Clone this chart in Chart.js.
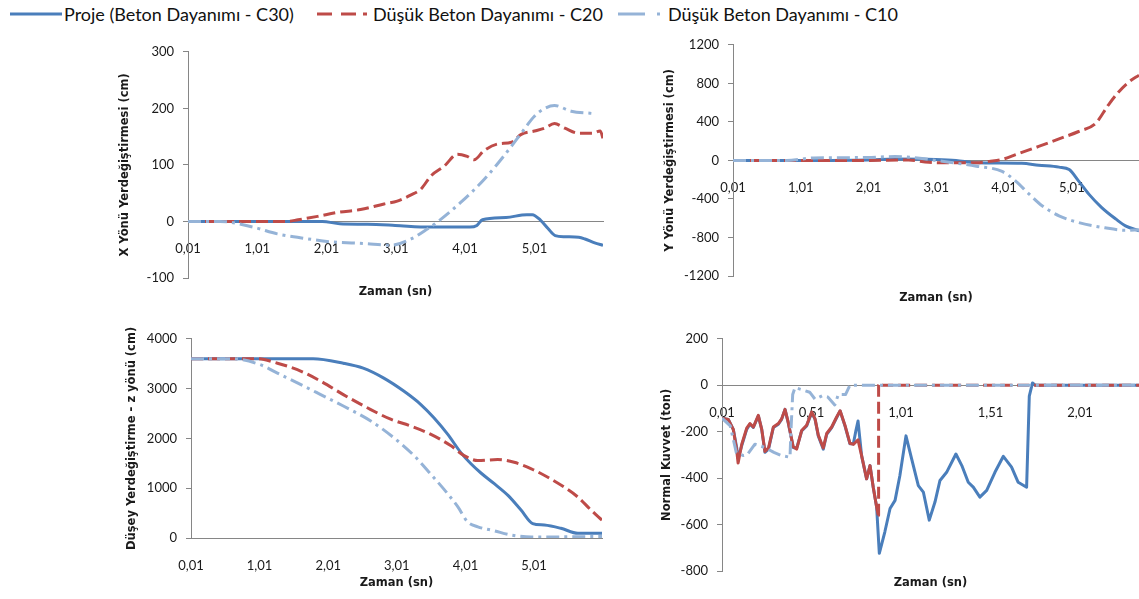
<!DOCTYPE html>
<html>
<head>
<meta charset="utf-8">
<script src="https://cdn.jsdelivr.net/npm/chart.js@4.4.1/dist/chart.umd.min.js"></script>
<style>
  body { margin: 0; background: #fff; width: 1139px; height: 599px; position: relative; overflow: hidden; font-family: Lato, "Open Sans", sans-serif; }
  canvas { position: absolute; }
  .legLine { position: absolute; top: 4px; }
  .legText { position: absolute; top: 3px; font-size: 18px; line-height: 22px; color: #111; white-space: nowrap; }
</style>
</head>
<body>
<svg class="legLine" style="left:10px" width="52" height="20"><line x1="0" y1="10" x2="52" y2="10" stroke="#4A7EBB" stroke-width="3"/></svg>
<span class="legText" style="left:64px">Proje (Beton Dayanımı - C30)</span>
<svg class="legLine" style="left:317px" width="52" height="20"><line x1="0" y1="10" x2="52" y2="10" stroke="#BE4B48" stroke-width="3" stroke-dasharray="15 9 15 7 4 100"/></svg>
<span class="legText" style="left:373px">Düşük Beton Dayanımı - C20</span>
<svg class="legLine" style="left:618px" width="52" height="20"><line x1="0" y1="10" x2="52" y2="10" stroke="#95B3D7" stroke-width="3" stroke-dasharray="27 12 3 100"/></svg>
<span class="legText" style="left:668px">Düşük Beton Dayanımı - C10</span>

<canvas id="chartX" width="505" height="270" style="left:110px;top:35px"></canvas>
<canvas id="chartY" width="499" height="285" style="left:640px;top:28px"></canvas>
<canvas id="chartZ" width="505" height="277" style="left:110px;top:322px"></canvas>
<canvas id="chartN" width="499" height="277" style="left:640px;top:322px"></canvas>

<script>
// tick positions on the time axes (sn)
const longTicks = [0.01, 1.01, 2.01, 3.01, 4.01, 5.01];
const shortTicks = [0.01, 0.51, 1.01, 1.51, 2.01];

// X yönü yerdeğiştirmesi (cm)
const xTimeC30 = [0.01, 1.95, 2.2, 2.6, 3.0, 3.5, 4.08, 4.18, 4.26, 4.6, 4.9, 4.98, 5.1, 5.21, 5.31, 5.45, 5.65, 5.74, 5.88, 6.0];
const xC30 = [0, 0, -4, -5, -7, -10, -10, -7, 3, 7, 12, 12, 2, -13, -25, -27, -28, -31, -38, -42];
const xTimeC20 = [0.01, 1.44, 1.6, 1.88, 2.17, 2.5, 2.84, 3.03, 3.23, 3.37, 3.52, 3.71, 3.9, 4.04, 4.14, 4.28, 4.48, 4.68, 4.82, 5.01, 5.16, 5.3, 5.45, 5.65, 5.84, 5.96, 6.0];
const xC20 = [0, 0, 3, 9, 16, 21, 31, 36, 47, 57, 81, 98, 119, 115, 109, 125, 137, 140, 154, 160, 165, 173, 165, 156, 156, 160, 147];
const xTimeC10 = [0.01, 0.47, 0.95, 1.3, 1.59, 2.07, 2.55, 2.94, 3.23, 3.47, 3.62, 3.95, 4.29, 4.57, 4.82, 5.01, 5.16, 5.3, 5.54, 5.84];
const xC10 = [0, 0, -10, -22, -28, -36, -39, -42, -31, -13, 0, 34, 75, 116, 156, 186, 200, 205, 195, 191];

// Y yönü yerdeğiştirmesi (cm)
const yTimeC30 = [0.01, 1.0, 2.0, 2.4, 3.0, 3.3, 3.6, 4.27, 4.52, 4.82, 4.97, 5.11, 5.26, 5.45, 5.66, 5.8, 6.0];
const yC30 = [0, 0, 5, 15, 10, 0, -25, -30, -50, -70, -95, -215, -350, -490, -610, -680, -730];
const yTimeC20 = [0.01, 1.0, 2.0, 2.6, 2.9, 3.3, 3.6, 3.79, 3.98, 4.18, 4.52, 4.82, 5.11, 5.36, 5.55, 5.7, 5.85, 6.0];
const yC20 = [0, 0, 0, 5, -20, -25, -25, -10, 10, 60, 145, 223, 300, 385, 577, 711, 814, 885];
const yTimeC10 = [0.01, 0.8, 1.2, 2.0, 2.4, 2.8, 3.0, 3.6, 3.98, 4.18, 4.38, 4.57, 4.82, 5.11, 5.5, 5.8, 6.0];
const yC10 = [0, 0, 25, 30, 40, 20, 0, -60, -115, -215, -350, -470, -575, -645, -700, -725, -720];

// Düşey yerdeğiştirme - z yönü (cm)
const zTimeC30 = [0.01, 1.79, 2.23, 2.52, 2.82, 3.11, 3.36, 3.55, 3.75, 3.94, 4.09, 4.24, 4.43, 4.63, 4.82, 4.99, 5.16, 5.4, 5.65, 6.0];
const zC30 = [3600, 3600, 3510, 3410, 3210, 2950, 2680, 2415, 2085, 1720, 1490, 1300, 1090, 855, 560, 290, 260, 195, 95, 95];
const zTimeC20 = [0.01, 0.97, 1.27, 1.56, 1.9, 2.23, 2.58, 2.92, 3.21, 3.5, 3.8, 3.99, 4.19, 4.48, 4.72, 4.97, 5.21, 5.45, 5.65, 5.84, 6.0];
const zC20 = [3600, 3600, 3510, 3380, 3150, 2880, 2615, 2385, 2250, 2085, 1850, 1655, 1555, 1575, 1520, 1390, 1220, 1020, 820, 560, 360];
const zTimeC10 = [0.01, 0.6, 1.02, 1.27, 1.56, 1.9, 2.23, 2.63, 2.96, 3.26, 3.5, 3.75, 3.9, 4.04, 4.19, 4.43, 4.68, 4.97, 6.0];
const zC10 = [3600, 3600, 3480, 3310, 3115, 2880, 2650, 2350, 2020, 1655, 1290, 890, 625, 325, 225, 145, 60, 20, 30];

// Normal kuvvet (ton)
const nTimeC30 = [0.01, 0.045, 0.073, 0.092, 0.1, 0.12, 0.148, 0.166, 0.185, 0.213, 0.232, 0.25, 0.27, 0.297, 0.325, 0.343, 0.362, 0.38, 0.408, 0.427, 0.455, 0.483, 0.511, 0.53, 0.548, 0.576, 0.595, 0.623, 0.65, 0.67, 0.697, 0.725, 0.744, 0.757, 0.77, 0.79, 0.818, 0.837, 0.855, 0.874, 0.889, 0.92, 0.949, 0.977, 1.004, 1.038, 1.07, 1.107, 1.135, 1.168, 1.2, 1.228, 1.265, 1.317, 1.35, 1.386, 1.414, 1.451, 1.489, 1.535, 1.582, 1.628, 1.665, 1.712, 1.727, 1.745, 1.76, 2.34];
const nC30 = [-142, -147, -190, -268, -315, -261, -190, -168, -182, -132, -190, -289, -275, -182, -168, -147, -104, -161, -268, -272, -197, -175, -118, -147, -218, -275, -211, -182, -140, -111, -175, -252, -252, -200, -154, -303, -403, -346, -439, -524, -724, -631, -531, -496, -389, -218, -318, -432, -460, -581, -503, -410, -375, -296, -346, -418, -439, -482, -453, -375, -306, -353, -418, -439, -47, 10, 0, 0];
const nTimeC20 = [0.01, 0.045, 0.073, 0.092, 0.1, 0.12, 0.148, 0.166, 0.185, 0.213, 0.232, 0.25, 0.27, 0.297, 0.325, 0.343, 0.362, 0.38, 0.408, 0.427, 0.455, 0.483, 0.511, 0.53, 0.548, 0.576, 0.595, 0.623, 0.65, 0.67, 0.697, 0.725, 0.744, 0.77, 0.79, 0.818, 0.837, 0.855, 0.874, 0.883, 0.885, 0.893, 0.905, 2.34];
const nC20 = [-142, -147, -190, -280, -335, -255, -185, -165, -180, -130, -190, -285, -270, -180, -165, -145, -104, -160, -265, -275, -195, -172, -115, -145, -215, -270, -208, -180, -138, -110, -172, -250, -255, -235, -303, -403, -346, -439, -524, -560, 0, 12, 0, 0];
const nTimeC10 = [0.01, 0.056, 0.09, 0.13, 0.15, 0.194, 0.25, 0.3, 0.343, 0.39, 0.395, 0.405, 0.418, 0.46, 0.5, 0.53, 0.57, 0.6, 0.64, 0.66, 0.7, 0.725, 2.34];
const nC10 = [-142, -175, -290, -303, -300, -254, -268, -289, -303, -310, -200, -40, -10, -20, -30, -60, -45, -50, -85, -40, -40, 0, 0];

const BLUE = '#4A7EBB';
const RED = '#BE4B48';
const LIGHT = '#95B3D7';
const AXIS = '#868686';
const TEXT = '#1a1a1a';
const RED_DASH = [12, 5];
const LIGHT_DASH = [13, 5, 3, 5];
const TITLE_FONT = { family: '"DejaVu Sans", sans-serif', size: 11.5, weight: 'bold' };

function pts(t, v) {
  return t.map((x, i) => ({ x: x, y: v[i] }));
}

function series(t, v, color, dash, order, extra) {
  return Object.assign({
    data: pts(t, v),
    borderColor: color,
    borderWidth: 3,
    borderDash: dash,
    borderCapStyle: 'butt',
    borderJoinStyle: 'round',
    pointRadius: 0,
    fill: false,
    cubicInterpolationMode: 'monotone',
    order: order
  }, extra || {});
}

function makeChart(id, s) {
  return new Chart(document.getElementById(id), {
    type: 'line',
    data: { datasets: s.datasets },
    options: {
      responsive: false,
      animation: false,
      events: [],
      layout: { padding: { top: 15, right: s.right, left: 0, bottom: 0 } },
      plugins: { legend: { display: false }, tooltip: { enabled: false } },
      scales: {
        x: {
          type: 'linear',
          position: { y: 0 },
          min: 0.01,
          max: s.xMax,
          afterBuildTicks: (axis) => { axis.ticks = s.xTicks.map(v => ({ value: v })); },
          afterFit: (axis) => { axis.height = 0; },
          grid: { display: false },
          border: { color: AXIS, width: 1 },
          ticks: {
            color: TEXT,
            font: { size: 13 },
            padding: 12,
            maxRotation: 0,
            autoSkip: false,
            callback: (v) => Number(v).toFixed(2).replace('.', ',')
          }
        },
        xt: {
          type: 'linear',
          position: 'bottom',
          min: 0,
          max: 1,
          grid: { display: false },
          border: { display: false },
          ticks: { display: false },
          title: { display: true, text: 'Zaman (sn)', color: TEXT, font: TITLE_FONT, padding: { top: 0, bottom: s.xTitlePad } },
          afterFit: (axis) => { axis.height = s.xTitleHeight; }
        },
        y: {
          min: s.yMin,
          max: s.yMax,
          ticks: { stepSize: s.yStep, color: TEXT, font: { size: 13 }, padding: 9, callback: (v) => String(v) },
          grid: { drawOnChartArea: false, tickLength: 5, color: AXIS },
          border: { color: AXIS, width: 1 },
          title: { display: true, text: s.yTitle, color: TEXT, font: TITLE_FONT, padding: { top: s.yTitlePad, bottom: 0 } },
          afterFit: (axis) => { axis.width = s.yWidth; }
        }
      }
    }
  });
}

Chart.defaults.font.family = 'Lato, "Open Sans", sans-serif';

makeChart('chartX', {
  datasets: [
    series(xTimeC30, xC30, BLUE, [], 2),
    series(xTimeC20, xC20, RED, RED_DASH, 1),
    series(xTimeC10, xC10, LIGHT, LIGHT_DASH, 0)
  ],
  xMax: 6.0, xTicks: longTicks,
  yMin: -100, yMax: 300, yStep: 100,
  yTitle: 'X Yönü Yerdeğiştirmesi (cm)',
  yWidth: 78, yTitlePad: 8, right: 12,
  xTitleHeight: 27, xTitlePad: 6
});

makeChart('chartY', {
  datasets: [
    series(yTimeC30, yC30, BLUE, [], 2),
    series(yTimeC20, yC20, RED, RED_DASH, 1),
    series(yTimeC10, yC10, LIGHT, LIGHT_DASH, 0)
  ],
  xMax: 6.0, xTicks: longTicks,
  yMin: -1200, yMax: 1200, yStep: 400,
  yTitle: 'Y Yönü Yerdeğiştirmesi (cm)',
  yWidth: 93, yTitlePad: 23, right: 0,
  xTitleHeight: 37, xTitlePad: 8
});

makeChart('chartZ', {
  datasets: [
    series(zTimeC30, zC30, BLUE, [], 2),
    series(zTimeC20, zC20, RED, RED_DASH, 1),
    series(zTimeC10, zC10, LIGHT, LIGHT_DASH, 0)
  ],
  xMax: 6.0, xTicks: longTicks,
  yMin: 0, yMax: 4000, yStep: 1000,
  yTitle: 'Düşey Yerdeğiştirme - z yönü (cm)',
  yWidth: 81, yTitlePad: 15, right: 13,
  xTitleHeight: 61, xTitlePad: 9
});

// the wiggly part of C20 is drawn solid in the original, only the drop and the zero line are dashed
makeChart('chartN', {
  datasets: [
    series(nTimeC30, nC30, BLUE, [], 2, { cubicInterpolationMode: 'default', tension: 0 }),
    series(nTimeC20, nC20, RED, [], 1, {
      cubicInterpolationMode: 'default', tension: 0,
      segment: { borderDash: (ctx) => (ctx.p0.parsed.x >= 0.88 ? RED_DASH : undefined) }
    }),
    series(nTimeC10, nC10, LIGHT, LIGHT_DASH, 0, { cubicInterpolationMode: 'default', tension: 0 })
  ],
  xMax: 2.34, xTicks: shortTicks,
  yMin: -800, yMax: 200, yStep: 200,
  yTitle: 'Normal Kuvvet (ton)',
  yWidth: 82, yTitlePad: 20, right: 0,
  xTitleHeight: 28, xTitlePad: 9
});
</script>
</body>
</html>
